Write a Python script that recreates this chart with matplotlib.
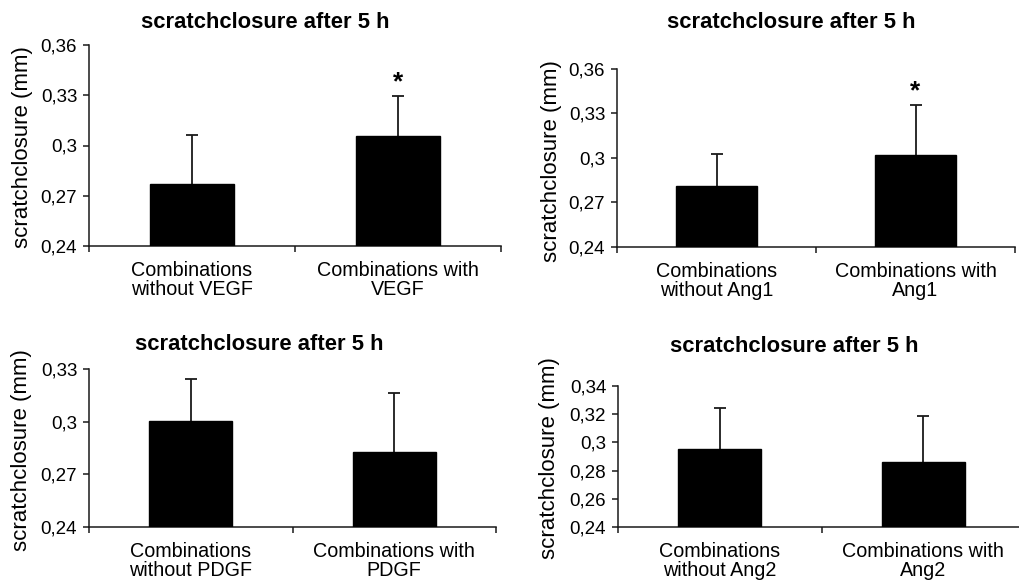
import matplotlib
matplotlib.use("Agg")
import matplotlib.pyplot as plt

plt.rcParams['font.family'] = ['Liberation Sans', 'DejaVu Sans']

W, H = 1019, 582

title_text = "scratchclosure after 5 h"
ylabel_text = "scratchclosure (mm)"

# Panel data
cats_vegf = ["Combinations\nwithout VEGF", "Combinations with\nVEGF"]
means_vegf = [0.2772, 0.3055]
errs_vegf = [0.0291, 0.0242]
sig_vegf = [False, True]
yticks_vegf = [0.24, 0.27, 0.30, 0.33, 0.36]
yticklabels_vegf = ["0,24", "0,27", "0,3", "0,33", "0,36"]

cats_ang1 = ["Combinations\nwithout Ang1", "Combinations with\nAng1"]
means_ang1 = [0.2811, 0.3018]
errs_ang1 = [0.0217, 0.0341]
sig_ang1 = [False, True]
yticks_ang1 = [0.24, 0.27, 0.30, 0.33, 0.36]
yticklabels_ang1 = ["0,24", "0,27", "0,3", "0,33", "0,36"]

cats_pdgf = ["Combinations\nwithout PDGF", "Combinations with\nPDGF"]
means_pdgf = [0.3006, 0.2829]
errs_pdgf = [0.0237, 0.0336]
sig_pdgf = [False, False]
yticks_pdgf = [0.24, 0.27, 0.30, 0.33]
yticklabels_pdgf = ["0,24", "0,27", "0,3", "0,33"]

cats_ang2 = ["Combinations\nwithout Ang2", "Combinations with\nAng2"]
means_ang2 = [0.2956, 0.2862]
errs_ang2 = [0.0291, 0.0324]
sig_ang2 = [False, False]
yticks_ang2 = [0.24, 0.26, 0.28, 0.30, 0.32, 0.34]
yticklabels_ang2 = ["0,24", "0,26", "0,28", "0,3", "0,32", "0,34"]

fig = plt.figure(figsize=(W / 100, H / 100), dpi=100)

AXC = "#1a1a1a"


def add_panel(box, cats, means, errs, sig, yticks, yticklabels, title_xy, ylabel_xy):
    left, right, top, bottom = box
    ax = fig.add_axes([left / W, 1 - bottom / H, (right - left) / W, (bottom - top) / H])
    x = [0.5, 1.5]
    ax.bar(x, [m - yticks[0] for m in means], bottom=yticks[0], width=0.41,
           color="black", edgecolor="black", zorder=3)
    eb = ax.errorbar(x, means, yerr=[[0, 0], errs], fmt="none", ecolor=AXC,
                     elinewidth=1.3, capsize=4.5, capthick=1.3, zorder=2)
    caps = eb.lines[1]
    if len(caps) > 1:
        caps[0].set_visible(False)
    for xi, m, e, s in zip(x, means, errs, sig):
        if s:
            ax.annotate("*", (xi, m + e), xytext=(0, 1), textcoords="offset points",
                        ha="center", va="bottom", fontsize=19, fontweight="bold")
    ax.set_xlim(0, 2)
    ax.set_ylim(yticks[0], yticks[-1])
    ax.set_yticks(yticks)
    ax.set_yticklabels(yticklabels, fontsize=13.5)
    ax.set_xticks([0, 1, 2])
    ax.set_xticklabels([])
    ax.set_xticks(x, minor=True)
    ax.set_xticklabels(cats, minor=True, fontsize=14.2, linespacing=1.0)
    ax.tick_params(axis="x", which="minor", length=0, pad=11)
    ax.tick_params(axis="both", which="major", length=4.5, width=1.1, color=AXC, direction="out")
    ax.tick_params(axis="y", pad=4)
    for sp in ["top", "right"]:
        ax.spines[sp].set_visible(False)
    for sp in ["left", "bottom"]:
        ax.spines[sp].set_linewidth(1.1)
        ax.spines[sp].set_color(AXC)
    fig.text(title_xy[0] / W, 1 - title_xy[1] / H, title_text, ha="center", va="center",
             fontsize=15.8, fontweight="bold")
    fig.text(ylabel_xy[0] / W, 1 - ylabel_xy[1] / H, ylabel_text, ha="center", va="center",
             rotation=90, fontsize=16)
    return ax


add_panel((89, 501, 45, 246), cats_vegf, means_vegf, errs_vegf, sig_vegf,
          yticks_vegf, yticklabels_vegf, (265, 22), (23, 147))
add_panel((617, 1015, 69, 247), cats_ang1, means_ang1, errs_ang1, sig_ang1,
          yticks_ang1, yticklabels_ang1, (791, 22), (551, 161))
add_panel((89, 496, 369, 527), cats_pdgf, means_pdgf, errs_pdgf, sig_pdgf,
          yticks_pdgf, yticklabels_pdgf, (259, 345), (22, 450))
add_panel((618, 1025, 386, 527), cats_ang2, means_ang2, errs_ang2, sig_ang2,
          yticks_ang2, yticklabels_ang2, (794, 346), (550, 458))

fig.savefig("out.png", dpi=100)
